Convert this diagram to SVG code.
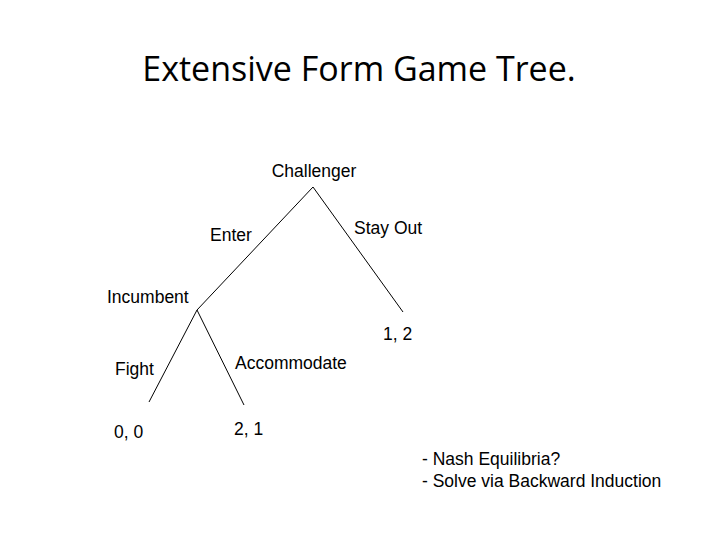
<svg xmlns="http://www.w3.org/2000/svg" width="720" height="540" viewBox="0 0 720 540">
<style>
.t{font-family:"Liberation Sans",Arial,sans-serif;font-size:17.5px;fill:#000}
.l{stroke:#000;stroke-width:1;fill:none}
</style>
<rect width="720" height="540" fill="#fff"/>
<text x="359" y="81" text-anchor="middle" style="font-family:'Open Sans',sans-serif;font-size:34px">Extensive Form Game Tree.</text>
<g id="connectors">
<line class="l" x1="313" y1="187" x2="197" y2="310"/>
<line class="l" x1="313" y1="187" x2="403" y2="312"/>
<line class="l" x1="197" y1="310" x2="149" y2="402"/>
<line class="l" x1="197" y1="310" x2="244" y2="405"/>
</g>
<g id="challenger"><text class="t" x="314" y="177" text-anchor="middle">Challenger</text></g>
<g id="enter"><text class="t" x="210" y="241">Enter</text></g>
<g id="stayout"><text class="t" x="354" y="234">Stay Out</text></g>
<g id="incumbent"><text class="t" x="107" y="303">Incumbent</text></g>
<g id="p12"><text class="t" x="383" y="340">1, 2</text></g>
<g id="fight"><text class="t" x="115" y="375">Fight</text></g>
<g id="accommodate"><text class="t" x="235" y="369">Accommodate</text></g>
<g id="p00"><text class="t" x="114" y="438">0, 0</text></g>
<g id="p21"><text class="t" x="234" y="435">2, 1</text></g>
<g id="notes"><text class="t" x="422" y="465">- Nash Equilibria?</text><text class="t" x="422" y="487">- Solve via Backward Induction</text></g>
</svg>
